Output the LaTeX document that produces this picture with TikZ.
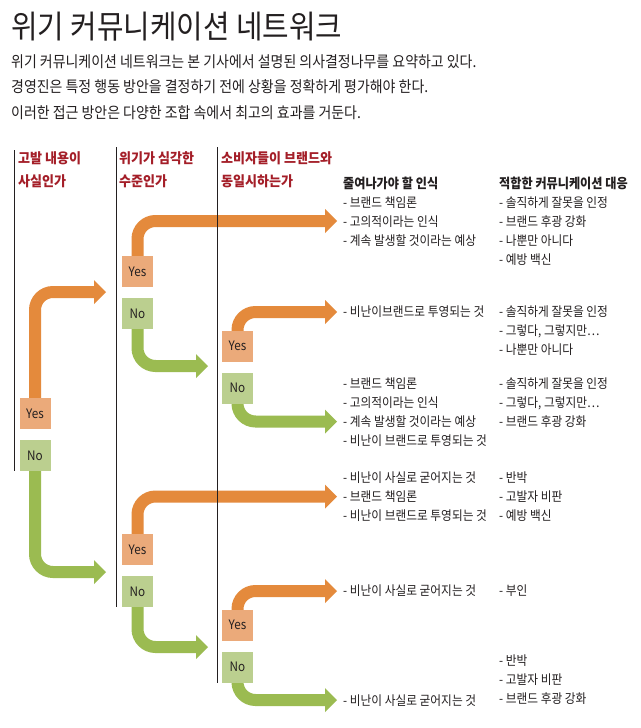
\documentclass[tikz,border=0pt]{standalone}
\usepackage{fontspec}
\setmainfont[FakeStretch=0.9]{Noto Sans CJK KR}
\newfontfamily\titlefont[FakeStretch=0.9]{Noto Sans CJK KR}
\newfontfamily\hdrfont[FakeStretch=0.93]{Noto Sans CJK KR}
\usetikzlibrary{arrows.meta}
\pgfdeclarelayer{bg}
\pgfsetlayers{bg,main}
\definecolor{hdr}{RGB}{164,30,40}
\definecolor{ora}{RGB}{228,138,60}
\definecolor{grn}{RGB}{155,187,81}
\definecolor{yesf}{RGB}{235,170,122}
\definecolor{nof}{RGB}{187,207,143}
\definecolor{ink}{RGB}{35,31,32}
\tikzset{
  every node/.style={inner sep=0pt, text=ink},
  titletxt/.style={anchor=base west, font=\titlefont\fontsize{32}{32}\selectfont},
  bodytxt/.style={anchor=base west, font=\fontsize{15.5}{15.5}\selectfont},
  colhdr/.style={anchor=base west, text=hdr, font=\hdrfont\bfseries\fontsize{14}{14}\selectfont},
  txt/.style={anchor=base west, font=\fontsize{13}{13}\selectfont},
  txthdr/.style={anchor=base west, font=\bfseries\fontsize{13.5}{13.5}\selectfont},
  ybox/.style={fill=yesf, minimum width=31pt, minimum height=31pt, font=\fontsize{13}{13}\selectfont},
  nbox/.style={fill=nof, minimum width=31pt, minimum height=31pt, font=\fontsize{13}{13}\selectfont},
  flow/.style={line width=12pt, rounded corners=18pt, -{Triangle[length=12pt,width=24pt,line width=0pt]}},
  yarrow/.style={flow, draw=ora},
  narrow/.style={flow, draw=grn},
  vline/.style={line width=1pt, draw=ink}
}
\newcommand\txtlist[4]{%
  \foreach \itm [count=\i] in {#4}
    \node[txt, name=#1-\i] at (#2, {#3+19*(\i-1)}) {\itm};%
}
\begin{document}
\begin{tikzpicture}[x=1pt,y=-1pt]
\useasboundingbox (0,0) rectangle (640,728);
\begin{pgfonlayer}{bg}
  \fill[white] (0,0) rectangle (640,728);
\end{pgfonlayer}

% title and intro
\node[titletxt, name=title] at (11,38) {위기 커뮤니케이션 네트워크};
\node[bodytxt, name=intro1] at (11,67.6) {위기 커뮤니케이션 네트워크는 본 기사에서 설명된 의사결정나무를 요약하고 있다.};
\node[bodytxt, name=intro2] at (11,92.6) {경영진은 특정 행동 방안을 결정하기 전에 상황을 정확하게 평가해야 한다.};
\node[bodytxt, name=intro3] at (11,118.6) {이러한 접근 방안은 다양한 조합 속에서 최고의 효과를 거둔다.};

% column headers
\node[colhdr, name=h1a] at (18,163.7) {고발 내용이};
\node[colhdr, name=h1b] at (18,186.7) {사실인가};
\node[colhdr, name=h2a] at (119,163.7) {위기가 심각한};
\node[colhdr, name=h2b] at (119,186.7) {수준인가};
\node[colhdr, name=h3a] at (221,163.7) {소비자들이 브랜드와};
\node[colhdr, name=h3b] at (221,186.7) {동일시하는가};

% vertical separators
\draw[vline] (14.5,150) -- (14.5,471);
\draw[vline] (116,147) -- (116,607);
\draw[vline] (217,147) -- (217,683);

% yes / no boxes
\node[ybox, name=y1]  at (35,413.5) {Yes};
\node[nbox, name=n1]  at (35,455.5) {No};
\node[ybox, name=y2a] at (137.5,271.5) {Yes};
\node[nbox, name=n2a] at (137.5,313.5) {No};
\node[ybox, name=y3a] at (237.5,346) {Yes};
\node[nbox, name=n3a] at (237.5,388) {No};
\node[ybox, name=y2b] at (137.5,549.5) {Yes};
\node[nbox, name=n2b] at (137.5,591.5) {No};
\node[ybox, name=y3b] at (237.5,625) {Yes};
\node[nbox, name=n3b] at (237.5,667) {No};

% arrow tips
\coordinate (t1y)  at (106,292);
\coordinate (t1n)  at (106,572);
\coordinate (t2ay) at (337,221);
\coordinate (t2an) at (208,366);
\coordinate (t3ay) at (337,312);
\coordinate (t3an) at (337,421.5);
\coordinate (t2by) at (337,496.5);
\coordinate (t2bn) at (208,647);
\coordinate (t3by) at (337,591);
\coordinate (t3bn) at (337,700);

\begin{pgfonlayer}{bg}
  \draw[yarrow] (y1.center)  |- (t1y);
  \draw[narrow] (n1.center)  |- (t1n);
  \draw[yarrow] (y2a.center) |- (t2ay);
  \draw[narrow] (n2a.center) |- (t2an);
  \draw[yarrow] (y3a.center) |- (t3ay);
  \draw[narrow] (n3a.center) |- (t3an);
  \draw[yarrow] (y2b.center) |- (t2by);
  \draw[narrow] (n2b.center) |- (t2bn);
  \draw[yarrow] (y3b.center) |- (t3by);
  \draw[narrow] (n3b.center) |- (t3bn);
\end{pgfonlayer}

% outcome lists
\node[txthdr, name=ghl] at (343,188.8) {줄여나가야 할 인식};
\node[txthdr, name=ghr] at (499,188.8) {적합한 커뮤니케이션 대응};
\txtlist{g1l}{343}{207.8}{- 브랜드 책임론, - 고의적이라는 인식, - 계속 발생할 것이라는 예상}
\txtlist{g1r}{499}{207.8}{- 솔직하게 잘못을 인정, - 브랜드 후광 강화, - 나뿐만 아니다, - 예방 백신}
\txtlist{g2l}{343}{316.8}{- 비난이브랜드로 투영되는 것}
\txtlist{g2r}{499}{316.8}{- 솔직하게 잘못을 인정, {- 그렇다, 그렇지만…}, - 나뿐만 아니다}
\txtlist{g3l}{343}{388.3}{- 브랜드 책임론, - 고의적이라는 인식, - 계속 발생할 것이라는 예상, - 비난이 브랜드로 투영되는 것}
\txtlist{g3r}{499}{388.3}{- 솔직하게 잘못을 인정, {- 그렇다, 그렇지만…}, - 브랜드 후광 강화}
\txtlist{g4l}{343}{482.3}{- 비난이 사실로 굳어지는 것, - 브랜드 책임론, - 비난이 브랜드로 투영되는 것}
\txtlist{g4r}{499}{482.3}{- 반박, - 고발자 비판, - 예방 백신}
\txtlist{g5l}{343}{595.8}{- 비난이 사실로 굳어지는 것}
\txtlist{g5r}{499}{595.8}{- 부인}
\txtlist{g6l}{343}{705.8}{- 비난이 사실로 굳어지는 것}
\txtlist{g6r}{499}{665.8}{- 반박, - 고발자 비판, - 브랜드 후광 강화}
\end{tikzpicture}
\end{document}
